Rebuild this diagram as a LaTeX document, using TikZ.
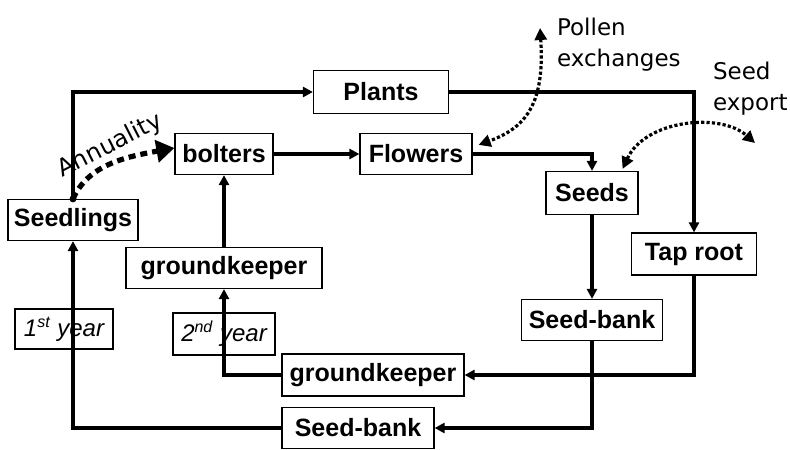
\documentclass[tikz,border=0pt]{standalone}
\usepackage{fontspec}
\setmainfont{Liberation Sans}
\newfontfamily\handfont{DejaVu Sans}
\usetikzlibrary{arrows.meta}

\begin{document}
\begin{tikzpicture}[x=0.5pt,y=-0.5pt,%,cap=round,>=latex]
  box/.style={draw,line width=0.6pt,inner sep=0pt,font=\bfseries\fontsize{12.5}{14}\selectfont},
  yearbox/.style={draw,line width=0.6pt,inner sep=0pt,font=\itshape\fontsize{12}{14}\selectfont},
  flow/.style={line width=1.7pt,-{Triangle[length=5pt,width=5pt]}},
  thickflow/.style={flow,line width=2.2pt},
  exch/.style={line width=1.6pt,dash pattern=on 1.6pt off 1.1pt,
    {Triangle[length=6pt,width=6pt]}-{Triangle[length=6pt,width=6pt]}},
  hand/.style={font=\handfont\fontsize{11.5}{15.5}\selectfont,align=left}]

\useasboundingbox (0,0) rectangle (790,449);

\node [box,minimum width=65pt,minimum height=20.5pt] (seedlings) at (73,220) {Seedlings};
\node [box,minimum width=67.5pt,minimum height=21.5pt] (plants) at (381,92) {Plants};
\node [box,minimum width=49pt,minimum height=20.5pt] (bolters) at (224,154) {bolters};
\node [box,minimum width=56pt,minimum height=20.5pt] (flowers) at (416,154) {Flowers};
\node [box,minimum width=46pt,minimum height=21.5pt] (seeds) at (592,193) {Seeds};
\node [box,minimum width=62.5pt,minimum height=21pt] (taproot) at (694,254) {Tap root};
\node [box,minimum width=98pt,minimum height=20.5pt] (gkeepUp) at (224,268) {groundkeeper};
\node [box,minimum width=70.5pt,minimum height=20.5pt] (sbankUp) at (592,320) {Seed-bank};
\node [box,minimum width=91pt,minimum height=21pt] (gkeepLow) at (373,375) {groundkeeper};
\node [box,minimum width=76pt,minimum height=20.5pt] (sbankLow) at (358,428) {Seed-bank};

\node [yearbox,minimum width=49pt,minimum height=20pt] (first) at (64,329) {1\textsuperscript{st} year};
\node [yearbox,minimum width=51pt,minimum height=21pt] (second) at (224,334) {2\textsuperscript{nd} year};

\draw [flow] (seedlings) |- (plants);
\draw [flow] (plants) -| (taproot);
\draw [flow] (taproot) |- (gkeepLow);
\draw [thickflow] (bolters) -- (flowers);
\draw [thickflow] (flowers) -| (seeds);
\draw [flow] (seeds) -- (sbankUp);
\draw [thickflow] (sbankUp) |- (sbankLow);
\draw [flow] (gkeepLow) -| (gkeepUp);
\draw [thickflow] (sbankLow) -| (seedlings);
\draw [thickflow] (gkeepUp) -- (bolters);

% annuality
\fill (seedlings.north) circle [radius=3.5];
\draw [line width=2.6pt,dash pattern=on 3.5pt off 2.5pt,-{Triangle[length=9pt,width=11pt]}]
  (seedlings.north) .. controls (88,165) and (125,157) .. ([yshift=3]bolters.west);
\node [hand,rotate=27,font=\handfont\fontsize{12}{14}\selectfont] (annuality) at (110,146) {Annuality};

% exchanges
\coordinate (pollen) at (540,28);
\coordinate (export) at (755,143);
\draw [exch] (pollen) .. controls (545,105) and (525,128) .. ([shift={(6,12)}]flowers.north east);
\draw [exch] ([shift={(-16,-2)}]seeds.north east) .. controls (645,120) and (720,112) .. (export);
\node [hand,anchor=west] (pollentxt) at (550,45) {Pollen\\exchanges};
\node [hand,anchor=west] (exporttxt) at (706,89) {Seed\\export};

\end{tikzpicture}
\end{document}
